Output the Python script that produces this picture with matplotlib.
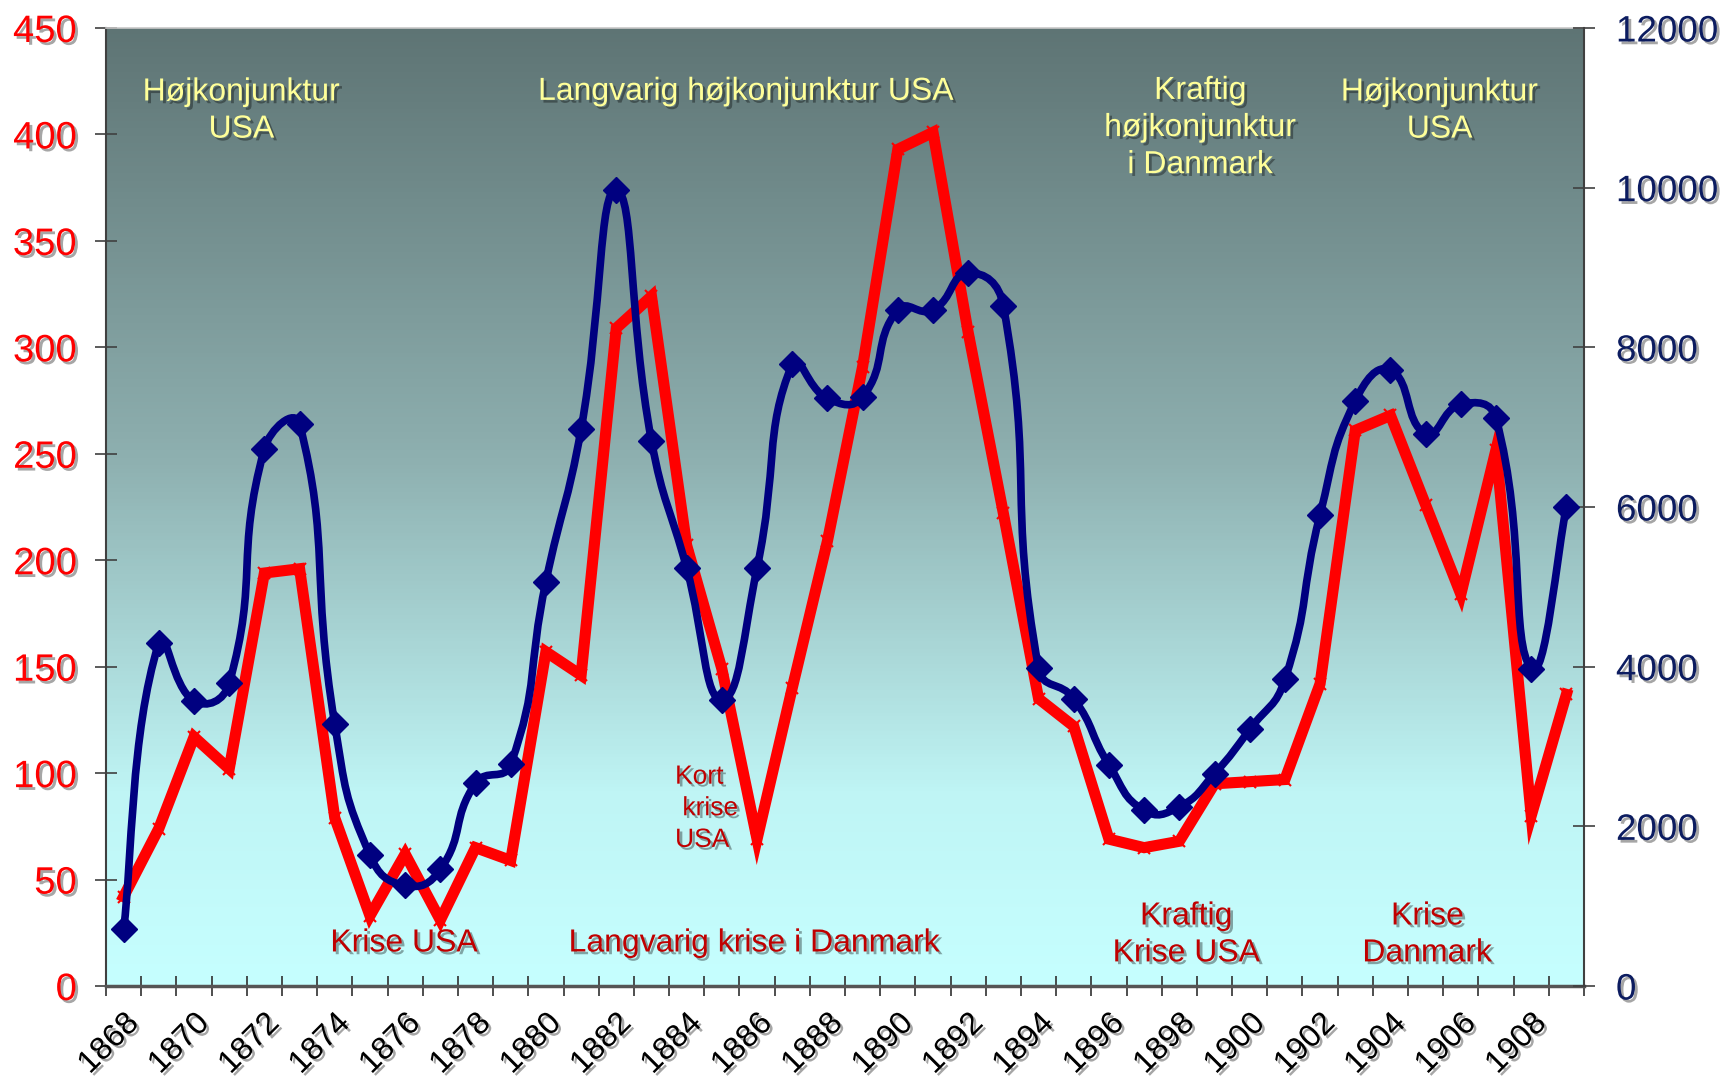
import numpy as np
import matplotlib
matplotlib.use('Agg')
import matplotlib.pyplot as plt
import matplotlib.patheffects as pe
from matplotlib.path import Path
from matplotlib.patches import PathPatch
from matplotlib.colors import LinearSegmentedColormap

plt.rcParams['font.family'] = ['Liberation Sans', 'DejaVu Sans']

# data
years = list(range(1868, 1910))
red_vals = [42, 74, 117, 102, 194, 196, 79, 33, 62, 31,
            65, 59, 157, 146, 309, 324, 207, 149, 69, 140,
            209, 291, 393, 401, 307, 222, 135, 122, 69, 65,
            68, 95, 96, 97, 142, 261, 268, 226, 184, 252,
            80, 137]
blue_vals = [710, 4300, 3570, 3790, 6730, 7040, 3280, 1640, 1260, 1460,
             2540, 2775, 5065, 6975, 9970, 6830, 5235, 3585, 5235, 7790,
             7360, 7380, 8470, 8470, 8930, 8520, 3980, 3600, 2770, 2200,
             2245, 2660, 3214, 3840, 5905, 7330, 7715, 6920, 7285, 7110,
             3975, 6000]
left_ticks = list(range(0, 451, 50))
right_ticks = list(range(0, 12001, 2000))

top_notes = [("Højkonjunktur\nUSA", 3.35, 411),
             ("Langvarig højkonjunktur USA", 17.7, 420),
             ("Kraftig\nhøjkonjunktur\ni Danmark", 30.6, 403),
             ("Højkonjunktur\nUSA", 37.4, 411)]
bottom_notes = [("Krise USA", 7.97, 20),
                ("Langvarig krise i Danmark", 17.93, 20),
                ("Kraftig\nKrise USA", 30.2, 24),
                ("Krise\nDanmark", 37.05, 24)]


def smooth_path(ax_, x, y, k=0.5):
    # smoothed line (bezier segments, control arms weighted by chord length)
    P = ax_.transData.transform(np.column_stack([x, y]))
    n = len(P)
    L = np.hypot(*np.diff(P, axis=0).T)
    verts = [P[0]]
    codes = [Path.MOVETO]
    for i in range(n - 1):
        if i == 0:
            c1 = P[0] + (P[1] - P[0]) * 0.5 * k
        else:
            c1 = P[i] + (P[i + 1] - P[i - 1]) * L[i] / (L[i - 1] + L[i]) * k
        if i + 2 >= n:
            c2 = P[i + 1] - (P[i + 1] - P[i]) * 0.5 * k
        else:
            c2 = P[i + 1] - (P[i + 2] - P[i]) * L[i] / (L[i] + L[i + 1]) * k
        verts += [c1, c2, P[i + 1]]
        codes += [Path.CURVE4] * 3
    verts = ax_.transData.inverted().transform(np.array(verts))
    return Path(verts, codes)


shadow = [pe.withSimplePatchShadow(offset=(2, -2), shadow_rgbFace='black', alpha=0.35)]

fig = plt.figure(figsize=(17.27, 10.85), dpi=100)
ax = fig.add_axes([0.0614, 0.0912, 0.8558, 0.883])
ax2 = ax.twinx()

# gradient plot area
cmap = LinearSegmentedColormap.from_list('bg', [(0.0, '#5e7474'), (0.45, '#8eb0b0'),
                                                (0.8, '#bff5f5'), (1.0, '#c6ffff')])
grad = np.linspace(0, 1, 256).reshape(-1, 1)
ax.imshow(grad, extent=[0, 1, 0, 1], transform=ax.transAxes, aspect='auto',
          cmap=cmap, origin='upper', zorder=0)

x = np.arange(len(years))
ax.set_xlim(-0.5, len(years) - 0.5)
ax.set_ylim(0, 450)
ax2.set_ylim(0, 12000)

ax.plot(x, red_vals, color='#ff0000', lw=8, marker='x', ms=9, mew=1.5,
        mec='#ff0000', solid_joinstyle='miter', zorder=3)

ax2.add_patch(PathPatch(smooth_path(ax2, x, blue_vals), facecolor='none',
                        edgecolor='#000080', lw=5.5, zorder=3))
ax2.plot(x, blue_vals, ls='none', marker='D', ms=13, color='#000080', zorder=4)

ax.set_yticks(left_ticks)
ax.set_yticklabels([str(v) for v in left_ticks], color='#ff0000', fontsize=27.5)
ax.tick_params(axis='y', direction='inout', length=16, width=1.2, color='#404040', pad=13)
ax2.set_yticks(right_ticks)
ax2.set_yticklabels([str(v) for v in right_ticks], color='#0c1c60', fontsize=26.5)
ax2.tick_params(axis='y', direction='inout', length=16, width=1.2, color='#404040', pad=15)

lab_pos = x[::2]
ax.set_xticks(lab_pos)
ax.set_xticklabels([str(years[i]) for i in lab_pos], rotation=45, ha='right', va='top',
                   rotation_mode='anchor', fontsize=23)
ax.set_xticks(np.arange(-0.5, len(years)), minor=True)
ax.tick_params(axis='x', which='major', length=0, pad=16)
ax.tick_params(axis='x', which='minor', direction='inout', length=15, width=1.2, color='#303030')

for lab in ax.get_yticklabels() + ax2.get_yticklabels() + ax.get_xticklabels():
    lab.set_path_effects(shadow)

for s in ['left', 'bottom', 'top', 'right']:
    ax2.spines[s].set_visible(s == 'right')
ax2.spines['right'].set_color('#404040')
ax2.spines['right'].set_linewidth(1.5)
ax.spines['right'].set_visible(False)
ax.spines['left'].set_color('#404040')
ax.spines['left'].set_linewidth(1.5)
ax.spines['bottom'].set_color('#555555')
ax.spines['bottom'].set_linewidth(2.5)
ax.spines['top'].set_color('#c8c8c8')
ax.spines['top'].set_linewidth(1.2)

for txt, xx, yy in top_notes:
    ax.text(xx, yy, txt, ha='center', va='center', color='#ffff99', fontsize=23,
            linespacing=1.31, path_effects=shadow, zorder=5)
for txt, xx, yy in bottom_notes:
    ax.text(xx, yy, txt, ha='center', va='center', color='#c00000', fontsize=23,
            linespacing=1.3, path_effects=shadow, zorder=5)
ax.text(15.67, 83.5, "Kort\n krise\nUSA", ha='left', va='center', color='#c00000',
        fontsize=19, linespacing=1.4, path_effects=shadow, zorder=5)

fig.savefig('out.png', dpi=100)
